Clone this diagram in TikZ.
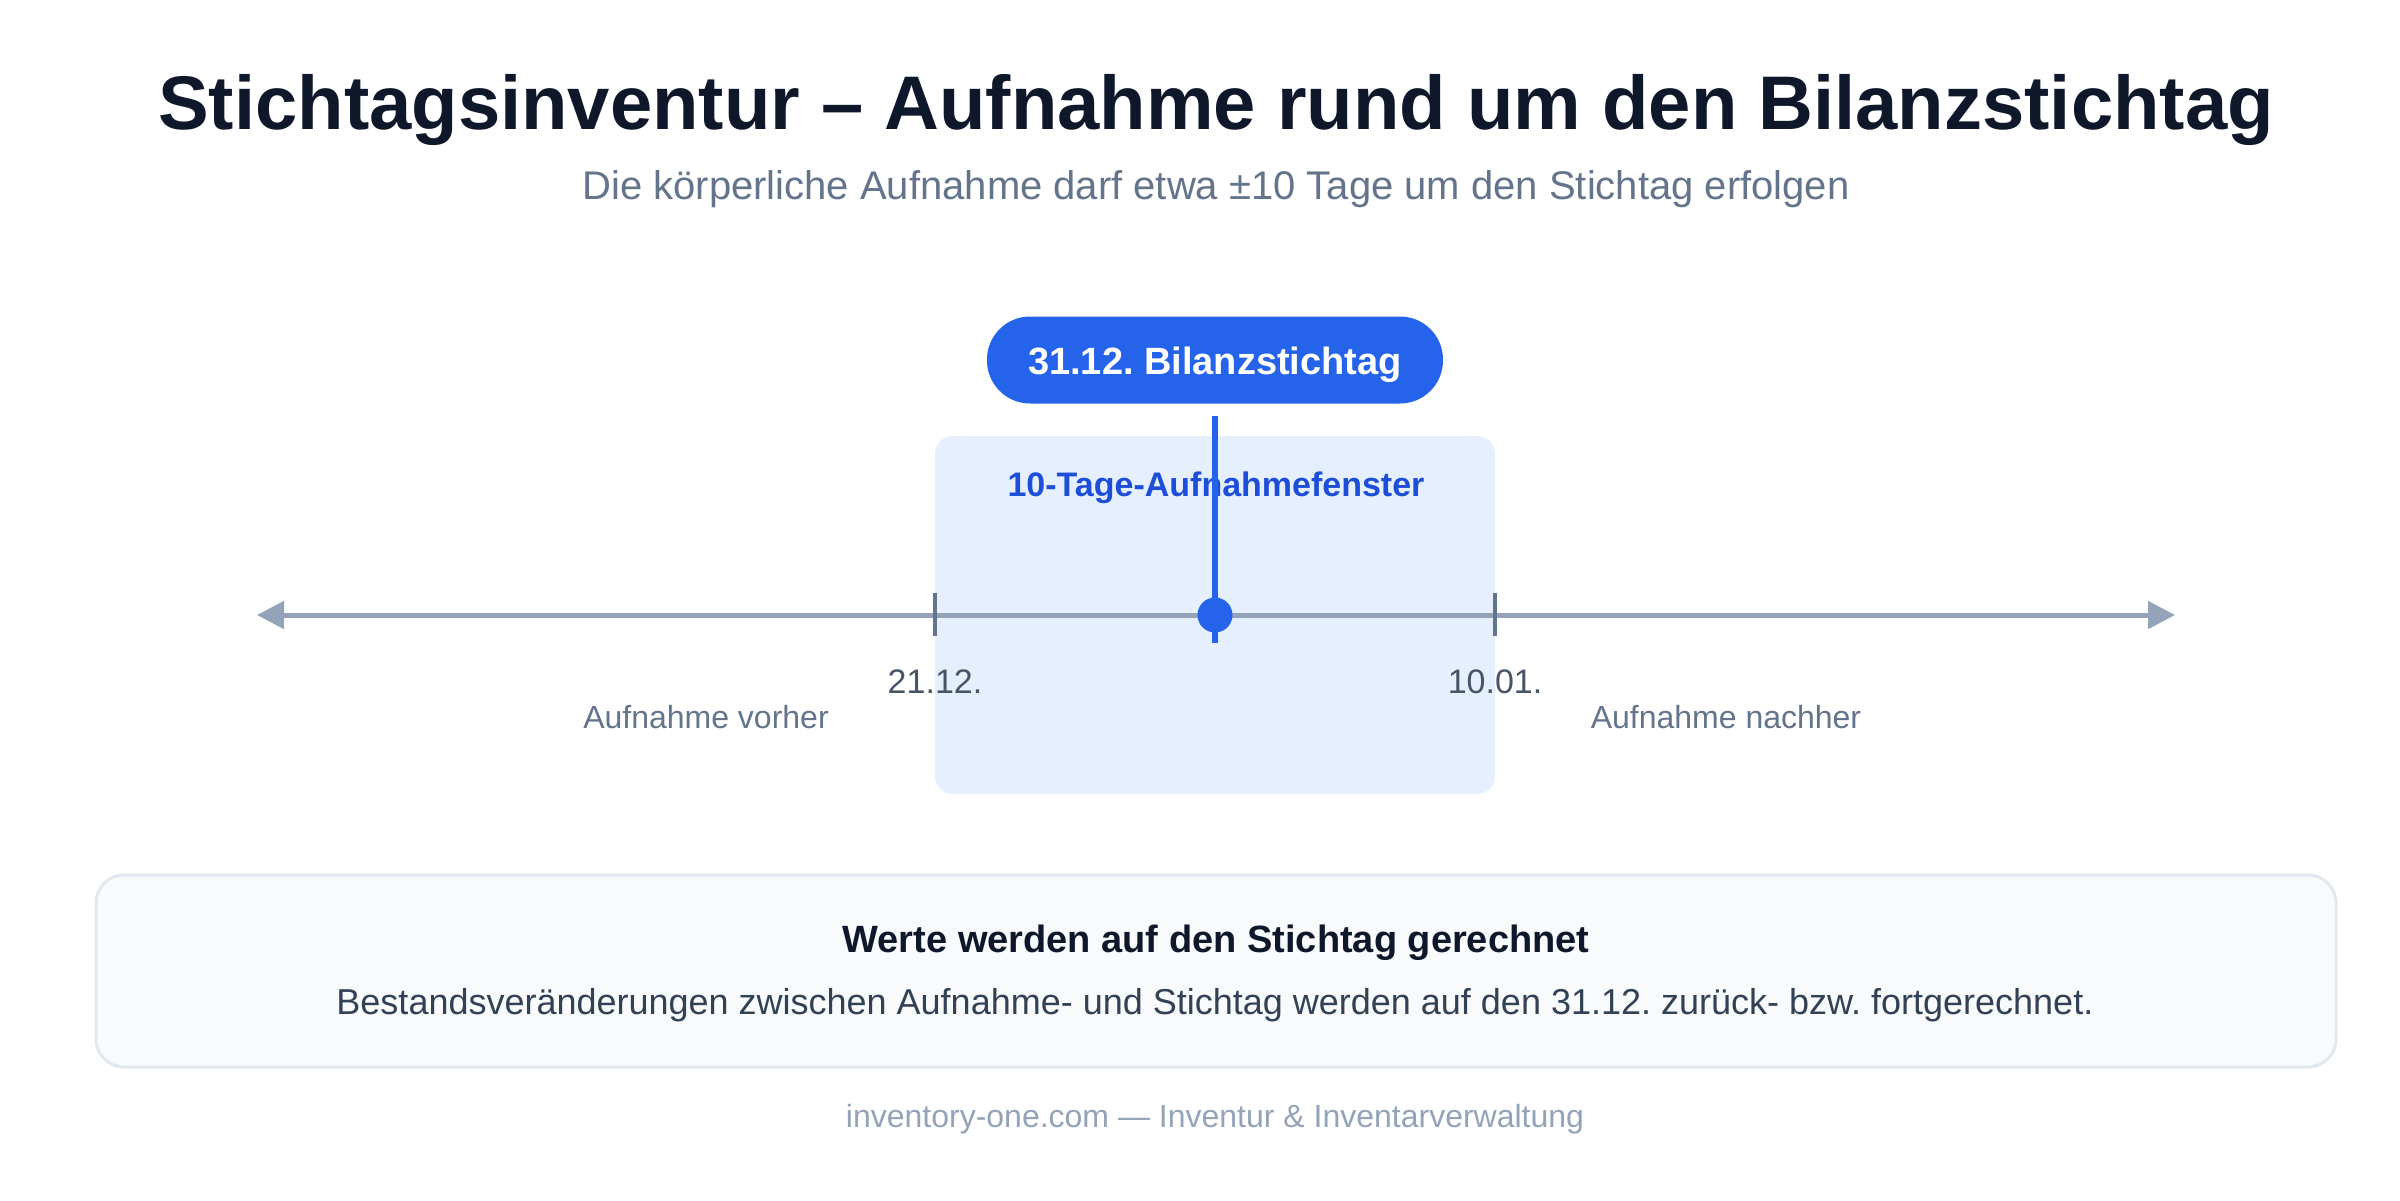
\documentclass[tikz,border=0pt]{standalone}
\usepackage{fontspec}
\setmainfont{Liberation Sans}
\usetikzlibrary{arrows.meta}
\frenchspacing
\definecolor{ctitle}{HTML}{0F172A}
\definecolor{csub}{HTML}{64748B}
\definecolor{cblue}{HTML}{2563EB}
\definecolor{cblued}{HTML}{1D4ED8}
\definecolor{cwin}{HTML}{E6EFFD}
\definecolor{caxis}{HTML}{94A3B8}
\definecolor{ctick}{HTML}{64748B}
\definecolor{clab}{HTML}{475569}
\definecolor{cboxf}{HTML}{F8FAFC}
\definecolor{cboxd}{HTML}{E2E8F0}
\definecolor{cbody}{HTML}{334155}
\newcommand{\fsz}[1]{\fontsize{#1}{#1}\selectfont\frenchspacing}
\tikzset{
  txt/.style={inner sep=0pt, anchor=base},
  ticklab/.style={txt, text=clab, font=\fsz{34}},
  sidelab/.style={txt, text=csub, font=\fsz{32}},
  tickmark/.style={draw=ctick, line width=4pt},
}
\begin{document}
\begin{tikzpicture}[x=1pt,y=-1pt]
\useasboundingbox[fill=white] (0,0) rectangle (2400,1200);
% title
\node[txt, text=ctitle, font=\bfseries\fsz{76}] (title) at (1216,129) {Stichtagsinventur – Aufnahme rund um den Bilanzstichtag};
\node[txt, text=csub, font=\fsz{40}] (subtitle) at (1216,199) {Die körperliche Aufnahme darf etwa ±10 Tage um den Stichtag erfolgen};
% window
\fill[cwin, rounded corners=18pt] (935,436) rectangle (1495,794);
\node[txt, text=cblued, font=\bfseries\fsz{34}] (winlab) at (1216,496) {10-Tage-Aufnahmefenster};
% pill
\node[fill=cblue, rounded corners=43pt, minimum width=456pt, minimum height=87pt, inner sep=0pt] (pill) at (1215,360) {};
\node[txt, text=white, font=\bfseries\fsz{38}] (pilltxt) at (1215,374) {31.12. Bilanzstichtag};
% axis
\coordinate (axl) at (257,615);
\coordinate (axr) at (2175,615);
\draw[caxis, line width=5pt, {Triangle[length=27pt,width=27pt]}-{Triangle[length=27pt,width=27pt]}] (axl) -- (axr);
% ticks
\coordinate (t1) at (935,615);
\coordinate (t2) at (1495,615);
\draw[tickmark] ([yshift=-21pt]t1) -- ([yshift=22pt]t1);
\draw[tickmark] ([yshift=-21pt]t2) -- ([yshift=22pt]t2);
% stichtag line and dot
\coordinate (ltop) at (1215,416);
\coordinate (lbot) at (1215,643);
\draw[cblue, line width=6pt] (ltop) -- (lbot);
\node[circle, fill=cblue, minimum size=35pt, inner sep=0pt] (dot) at (1215,615) {};
% labels
\node[ticklab] (l1) at (935,693) {21.12.};
\node[ticklab] (l2) at (1495,693) {10.01.};
\node[sidelab] (vor) at (706,728) {Aufnahme vorher};
\node[sidelab] (nach) at (1726,728) {Aufnahme nachher};
% bottom box
\draw[fill=cboxf, draw=cboxd, line width=3pt, rounded corners=28pt] (96,875) rectangle (2336,1067);
\node[txt, text=ctitle, font=\bfseries\fsz{38}] (boxtitle) at (1216,952) {Werte werden auf den Stichtag gerechnet};
\node[txt, text=cbody, font=\fsz{36}] (boxbody) at (1215,1014) {Bestandsveränderungen zwischen Aufnahme- und Stichtag werden auf den 31.12. zurück- bzw. fortgerechnet.};
% footer
\node[txt, text=caxis, font=\fsz{32}] (footer) at (1215,1127) {inventory-one.com — Inventur \& Inventarverwaltung};
\end{tikzpicture}
\end{document}
